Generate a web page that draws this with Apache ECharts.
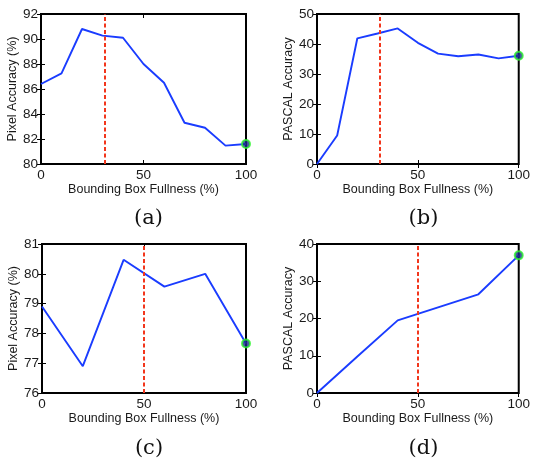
<!DOCTYPE html>
<html>
<head>
<meta charset="utf-8">
<script src="https://cdn.jsdelivr.net/npm/echarts@6/dist/echarts.min.js"></script>
<style>
  html, body { margin: 0; padding: 0; background: #fff; }
  #chart { width: 533px; height: 461px; }
</style>
</head>
<body>
<div id="chart"></div>
<script>
// data
const fullnessA = [0, 10, 20, 30, 40, 50, 60, 70, 80, 90, 100];
const pixelAccA = [86.4, 87.25, 90.8, 90.27, 90.1, 88.0, 86.5, 83.3, 82.9, 81.47, 81.6];
const pascalAccB = [0, 9.5, 41.9, 43.5, 45.2, 40.4, 36.8, 35.9, 36.5, 35.2, 36.1];

const fullnessC = [0, 20, 40, 60, 80, 100];
const pixelAccC = [78.9, 76.9, 80.47, 79.57, 80.0, 77.66];
const pascalAccD = [0, 9.8, 19.5, 23.0, 26.5, 36.95];

const cutoffs = [31, 31, 50, 50];
const captions = ["(a)", "(b)", "(c)", "(d)"];
const yNames = ["Pixel Accuracy (%)", "PASCAL Accuracy", "Pixel Accuracy (%)", "PASCAL Accuracy"];
const yRanges = [[80, 92, 2], [0, 50, 10], [76, 81, 1], [0, 40, 10]];
const xName = "Bounding Box Fullness (%)";

const panels = [
  { x: fullnessA, y: pixelAccA },
  { x: fullnessA, y: pascalAccB },
  { x: fullnessC, y: pixelAccC },
  { x: fullnessC, y: pascalAccD },
];

// plot boxes in pixels
const boxes = [
  { left: 41, top: 14, width: 205, height: 150 },
  { left: 317, top: 14, width: 203, height: 150 },
  { left: 42, top: 244, width: 204, height: 149 },
  { left: 317, top: 244, width: 203, height: 149 },
];

const textColor = "#1a1a1a";
const font = "Liberation Sans";

const chart = echarts.init(document.getElementById("chart"));

const grid = [], xAxis = [], yAxis = [], series = [], title = [];

boxes.forEach((b, i) => {
  grid.push({ left: b.left, top: b.top, width: b.width, height: b.height,
    show: true, borderColor: "#000", borderWidth: 2, backgroundColor: "#fff" });

  const tick = { show: true, inside: true, length: 4, lineStyle: { color: "#000", width: 1 } };
  const r = yRanges[i];

  // bottom + top x axes
  xAxis.push({
    type: "value", gridIndex: i, min: 0, max: 100, interval: 50, position: "bottom",
    axisLine: { show: false }, axisTick: tick, splitLine: { show: false },
    axisLabel: { color: textColor, fontFamily: font, fontSize: 13.5, margin: 4 },
    name: xName, nameLocation: "middle", nameGap: 17,
    nameTextStyle: { color: textColor, fontFamily: font, fontSize: 12.5 },
  });
  xAxis.push({
    type: "value", gridIndex: i, min: 0, max: 100, interval: 50, position: "top",
    axisLine: { show: false }, axisTick: tick, splitLine: { show: false },
    axisLabel: { show: false },
  });

  // left + right y axes
  yAxis.push({
    type: "value", gridIndex: i, min: r[0], max: r[1], interval: r[2], position: "left",
    axisLine: { show: false }, axisTick: tick, splitLine: { show: false },
    axisLabel: { color: textColor, fontFamily: font, fontSize: 13.5, margin: 3 },
    name: yNames[i], nameLocation: "middle", nameGap: 20,
    nameTextStyle: { color: textColor, fontFamily: font, fontSize: 12.5 },
  });
  yAxis.push({
    type: "value", gridIndex: i, min: r[0], max: r[1], interval: r[2], position: "right",
    axisLine: { show: false }, axisTick: tick, splitLine: { show: false },
    axisLabel: { show: false },
  });

  const p = panels[i];
  const pts = p.x.map((x, k) => [x, p.y[k]]);
  series.push({
    type: "line", xAxisIndex: i * 2, yAxisIndex: i * 2, data: pts,
    showSymbol: false, symbol: "none", animation: false,
    lineStyle: { color: "#1a3cff", width: 1.9 },
    markLine: {
      silent: true, symbol: "none", label: { show: false },
      lineStyle: { color: "#f2361c", type: [4, 2.5], width: 2 },
      data: [{ xAxis: cutoffs[i] }],
    },
    z: 3,
  });
  series.push({
    type: "scatter", xAxisIndex: i * 2, yAxisIndex: i * 2,
    data: [pts[pts.length - 1]], symbol: "circle", symbolSize: 8,
    itemStyle: { color: "#1a2a8a", borderColor: "#2ef52e", borderWidth: 2 },
    animation: false, z: 5,
  });

  title.push({
    text: captions[i], left: b.left + b.width / 2, top: b.top + 189, textAlign: "center",
    textStyle: { fontFamily: "DejaVu Serif", fontWeight: "normal", fontSize: 21, color: "#111" },
  });
});

chart.setOption({
  animation: false,
  title: title,
  grid: grid,
  xAxis: xAxis,
  yAxis: yAxis,
  series: series,
});
</script>
</body>
</html>
